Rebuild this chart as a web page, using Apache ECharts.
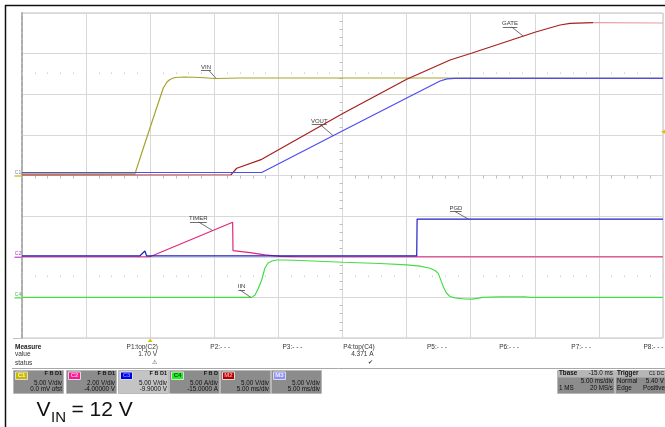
<!DOCTYPE html>
<html>
<head>
<meta charset="utf-8">
<title>Start-up waveforms, VIN = 12 V</title>
<script src="https://cdn.jsdelivr.net/npm/echarts@6.0.0/dist/echarts.min.js"></script>
<style>
  html, body { margin: 0; padding: 0; background: #fff; }
  #chart { width: 665px; height: 427px; }
</style>
</head>
<body>
<div id="chart"></div>
<script>
// scope settings
var chNames = ['C1', 'C2', 'C3', 'C4', 'M2', 'M3'];
var chPerDiv = [5, 2, 5, 5, 5, 5];          // V/div (A/div for C4)
var chOffset = [0, -4, -9.9, -15, 0, 0];    // offset shown in the box
var tStart = -10, tEnd = 40, tPerDiv = 5;   // ms; Tbase -15 ms puts the trigger 2 div in

// traces as [ms, value]
var vin = [[-10, 0.2], [-1.19, 0.2], [-0.56, 3.26], [0.37, 7.69], [1.02, 10.77], [1.31, 11.51],
  [1.54, 11.82], [1.93, 12.06], [2.71, 12.12], [3.88, 12.06], [5.05, 11.94], [7.0, 12.0], [40, 12.0]];
var gate = [[-10, 0.06], [6.30, 0.09], [6.75, 0.89], [8.70, 1.99], [15.06, 7.66], [20.01, 11.84],
  [23.39, 14.22], [25.05, 15.04], [30.07, 17.66], [31.97, 18.52], [32.75, 18.73], [34.54, 18.81], [40, 18.77]];
var vout = [[-10, 0.37], [8.70, 0.37], [15.02, 5.50], [20.01, 9.53], [22.61, 11.63], [23.16, 11.90],
  [23.78, 11.96], [40, 11.96]];
var timer = [[-10, 0], [-0.02, 0], [6.43, 1.70], [6.46, 0.30], [7.78, 0.20], [8.95, 0.09], [10.12, 0.02],
  [11.68, 0], [40, 0]];
var pgd = [[-10, 0], [-0.82, 0], [-0.41, 0.6], [-0.28, 0], [20.79, 0], [20.82, 4.54], [40, 4.54]];
var iin = [[-10, 0], [7.92, 0], [8.18, 0.3], [8.41, 1.03], [8.70, 2.14], [8.95, 3.62], [9.19, 4.23],
  [9.50, 4.48], [9.89, 4.60], [10.51, 4.60], [11.68, 4.54], [15.06, 4.32], [17.92, 4.17], [20.01, 3.99],
  [21.05, 3.84], [21.83, 3.58], [22.22, 3.31], [22.47, 2.95], [22.61, 2.76], [22.86, 1.32], [23.11, 0.54],
  [23.38, 0.11], [23.77, -0.07], [24.55, -0.2], [25.1, -0.22], [25.96, -0.01], [27.28, 0.07], [29.23, 0.07],
  [29.62, 0], [40, 0]];
var gateFade = 34.54;   // ms, the gate trace shows pale after this on the screen

// trace tags: text, underline t0..t1 at v, leader from t to (tEnd, vEnd)
var vinNote = ['VIN', 3.96, 4.74, 12.92, 4.58, 5.13, 11.96];
var voutNote = ['VOUT', 12.60, 13.77, 6.28, 13.25, 14.28, 4.90];
var gateNote = ['GATE', 27.50, 28.64, 18.28, 28.2, 29.1, 17.15];
var timerNote = ['TIMER', 3.10, 4.41, 1.71, 3.78, 4.87, 1.29];
var pgdNote = ['PGD', 23.39, 24.30, 5.46, 23.78, 24.82, 4.54];
var iinNote = ['IIN', 6.87, 7.39, 0.91, 7.0, 7.84, 0.01];

// measure table and channel boxes text
var measLabels = ['P1:top(C2)', 'P2:- - -', 'P3:- - -', 'P4:top(C4)', 'P5:- - -', 'P6:- - -', 'P7:- - -', 'P8:- - -'];
var measValues = ['1.70 V', '', '', '4.371 A', '', '', '', ''];
var measStatus = ['\u26a0', '', '', '\u2714', '', '', '', ''];
var boxFlags = ['F B D1', 'F B D1', 'F B D1', 'F B D', '', ''];
var boxLine1 = ['5.00 V/div', '2.00 V/div', '5.00 V/div', '5.00 A/div', '5.00 V/div', '5.00 V/div'];
var boxLine2 = ['0.0 mV ofst', '-4.00000 V', '-9.9000 V', '-15.0000 A', '5.00 ms/div', '5.00 ms/div'];
var tagFill = ['#c9b700', '#ff1493', '#0000ee', '#22ee22', '#b30000', '#8f8fff'];
var tagText = ['#fdfbc0', '#ffc0e0', '#7090ff', '#063c06', '#ff9c9c', '#eeeeff'];

var FF = '"Liberation Sans", Arial, sans-serif';
var chart = echarts.init(document.getElementById('chart'));

function chAxis(i) {
  var c = -chOffset[i];
  return { type: 'value', show: false, min: c - 4 * chPerDiv[i], max: c + 4 * chPerDiv[i] };
}

function noteLines(n) {
  return {
    silent: true,
    symbol: ['none', 'none'],
    animation: false,
    lineStyle: { color: '#4a4a4a', width: 0.8, type: 'solid' },
    label: { show: false },
    emphasis: { disabled: true },
    data: [
      [{ coord: [n[1], n[3]], label: { show: true, position: 'insideMiddleTop', distance: 0.5, formatter: n[0],
          fontSize: 6, fontFamily: FF, color: '#3a3a3a' } },
       { coord: [n[2], n[3]] }],
      [{ coord: [n[4], n[3]] }, { coord: [n[5], n[6]] }]
    ]
  };
}

function groundMark(name, color, textColor) {
  return {
    silent: true,
    animation: false,
    data: [{ coord: [tStart, 0], symbol: 'rect', symbolSize: [7, 1.2], symbolOffset: [-4, 0.5],
      itemStyle: { color: color },
      label: { show: true, position: 'top', distance: 0.5, formatter: name, fontSize: 5, fontFamily: FF, color: textColor } }]
  };
}

function trace(name, data, ch, color, note, mark) {
  var s = {
    name: name, type: 'line', data: data, xAxisIndex: 0, yAxisIndex: 1 + ch,
    symbol: 'none', showSymbol: false, silent: true,
    lineStyle: { color: color, width: 1.2 }, itemStyle: { color: color }
  };
  if (note) s.markLine = noteLines(note);
  if (mark) s.markPoint = mark;
  return s;
}

var vinMark = groundMark('C1', '#c9b700', '#8c78b8');
// trigger level (C1, 5.40 V) marker at the right edge
vinMark.data.push({ coord: [tEnd, 5.4], symbol: 'triangle', symbolRotate: 90, symbolSize: 4,
  itemStyle: { color: '#d6c400' }, label: { show: false } });

var gateHead = gate.filter(function (p) { return p[0] <= gateFade; });
var gateTail = gate.filter(function (p) { return p[0] >= gateFade; });

var gridColor = '#d8d8d8';
var tickColor = '#bdbdbd';
var dotColor = '#cfcfcf';

var option = {
  animation: false,
  backgroundColor: '#ffffff',
  grid: { left: 22, top: 13, width: 641, height: 325, show: true, borderColor: '#c0c0c0', borderWidth: 1,
    backgroundColor: 'transparent' },
  xAxis: [
    { type: 'value', min: tStart, max: tEnd, interval: tPerDiv, position: 'bottom',
      axisLine: { show: true, onZero: true, onZeroAxisIndex: 0, lineStyle: { color: gridColor } },
      axisTick: { show: false }, axisLabel: { show: false },
      minorTick: { show: true, splitNumber: 5, length: 3, lineStyle: { color: tickColor } },
      splitLine: { show: true, lineStyle: { color: gridColor } } },
    { type: 'value', show: false, min: -5, max: 5 },
    { type: 'value', min: tStart, max: tEnd, interval: tPerDiv, position: 'top',
      axisLine: { show: false, onZero: true, onZeroAxisIndex: 7 },
      axisTick: { show: true, length: 1.5, lineStyle: { color: dotColor } }, axisLabel: { show: false },
      minorTick: { show: true, splitNumber: 5, length: 1.5, lineStyle: { color: dotColor } },
      splitLine: { show: false } },
    { type: 'value', min: tStart, max: tEnd, interval: tPerDiv, position: 'top',
      axisLine: { show: false, onZero: true, onZeroAxisIndex: 8 },
      axisTick: { show: true, length: 1.5, lineStyle: { color: dotColor } }, axisLabel: { show: false },
      minorTick: { show: true, splitNumber: 5, length: 1.5, lineStyle: { color: dotColor } },
      splitLine: { show: false } }
  ],
  yAxis: [
    { type: 'value', min: -4, max: 4, interval: 1, position: 'left',
      axisLine: { show: true, onZero: true, onZeroAxisIndex: 1, lineStyle: { color: gridColor } },
      axisTick: { show: false }, axisLabel: { show: false },
      minorTick: { show: true, splitNumber: 5, length: 3, lineStyle: { color: tickColor } },
      splitLine: { show: true, lineStyle: { color: gridColor } } },
    chAxis(0), chAxis(1), chAxis(2), chAxis(3), chAxis(4), chAxis(5),
    { type: 'value', show: false, min: -6.5, max: 1.5 },
    { type: 'value', show: false, min: -1.5, max: 6.5 },
    { type: 'value', min: -4, max: 4, interval: 1, position: 'left',
      axisLine: { show: true, onZero: false, lineStyle: { color: '#adadad', width: 2, type: [4, 2] } },
      axisTick: { show: false }, axisLabel: { show: false }, splitLine: { show: false } }
  ],
  series: [
    trace('VIN', vin, 0, '#a9a12e', vinNote, vinMark),
    trace('GATE', gateHead, 4, '#a81e1e', gateNote),
    trace('GATE tail', gateTail, 4, '#e2a0a0', null),
    trace('VOUT', vout, 5, '#4d4df2', voutNote),
    trace('TIMER', timer, 1, '#e3267c', timerNote, groundMark('C2', '#c040d0', '#b03cc8')),
    trace('PGD', pgd, 2, '#1f1fc8', pgdNote),
    trace('IIN', iin, 3, '#44de44', iinNote, groundMark('C4', '#44de44', '#3fcc3f'))
  ]
};

chart.setOption(option);

// ---- panel below the graticule ----
var g = [];
function line(x1, y1, x2, y2, color, w) {
  g.push({ type: 'line', silent: true, z: 5, shape: { x1: x1, y1: y1, x2: x2, y2: y2 },
    style: { stroke: color, lineWidth: w } });
}
function rect(x, y, w, h, fill, stroke) {
  g.push({ type: 'rect', silent: true, z: 5, shape: { x: x, y: y, width: w, height: h },
    style: { fill: fill, stroke: stroke || null, lineWidth: 1 } });
}
function text(x, y, s, size, opt) {
  opt = opt || {};
  g.push({ type: 'text', silent: true, z: 6, x: x, y: y,
    style: { text: s, fill: opt.color || '#222', font: (opt.bold ? 'bold ' : '') + size + 'px ' + FF,
      align: opt.align || 'left', verticalAlign: 'middle' } });
}

// outer frame
line(5.5, 5, 5.5, 427, '#111', 1.5);
line(5, 5.5, 665, 5.5, '#111', 1.5);
line(13, 338.5, 22, 338.5, '#c0c0c0', 1);

// trigger position marker under the graticule
var trigX = chart.convertToPixel({ xAxisIndex: 0 }, 0);
g.push({ type: 'polygon', silent: true, z: 5,
  shape: { points: [[trigX - 2.5, 342], [trigX + 2.5, 342], [trigX, 338.5]] }, style: { fill: '#d6c400' } });

// measure table
text(15, 347.7, 'Measure', 6.5, { bold: true });
text(15, 354.7, 'value', 6.5, { color: '#333' });
text(15, 362.8, 'status', 6.5, { color: '#333' });
for (var i = 0; i < measLabels.length; i++) {
  var right = 158 + i * 72.2;
  text(right, 347.7, measLabels[i], 6.5, { align: 'right', color: '#333' });
  if (measValues[i]) text(right - 1, 354.7, measValues[i], 6.5, { align: 'right', color: '#333' });
  if (measStatus[i]) text(right - 4, 362.8, measStatus[i], 6, { align: 'center', color: '#444' });
}
line(12, 368.5, 665, 368.5, '#a8a8a8', 1);

// channel boxes
var boxX = [13, 66, 118, 169, 220, 271];
for (var k = 0; k < chNames.length; k++) {
  var bx = boxX[k];
  rect(bx + 0.5, 370.5, 50, 23, k === 2 ? '#c4c4c4' : '#8c8c8c', '#b8b8b8');
  rect(bx + 2.5, 372, 12, 7.5, tagFill[k], '#dcdcdc');
  text(bx + 8.5, 375.8, chNames[k], 6, { align: 'center', color: tagText[k], bold: true });
  if (boxFlags[k]) text(bx + 49, 373, boxFlags[k], 5.5, { align: 'right', color: '#111', bold: true });
  text(bx + 49, 382.8, boxLine1[k], 6.3, { align: 'right', color: '#111' });
  text(bx + 49, 389.3, boxLine2[k], 6.3, { align: 'right', color: '#111' });
}

// timebase and trigger boxes
rect(557.5, 370.5, 57, 23, '#8c8c8c', '#b8b8b8');
rect(558, 371, 56, 6.5, '#b6b6b6');
text(559, 373.5, 'Tbase', 6.3, { bold: true, color: '#111' });
text(613, 373.5, '-15.0 ms', 6.3, { align: 'right', color: '#111' });
text(613, 381, '5.00 ms/div', 6.3, { align: 'right', color: '#111' });
text(559, 388, '1 MS', 6.3, { color: '#111' });
text(613, 388, '20 MS/s', 6.3, { align: 'right', color: '#111' });
rect(615.5, 370.5, 52, 23, '#8c8c8c', '#b8b8b8');
rect(616, 371, 51, 6.5, '#b6b6b6');
text(617, 373.5, 'Trigger', 6.3, { bold: true, color: '#111' });
text(664, 373.5, 'C1 DC', 5, { align: 'right', color: '#111' });
text(617, 381, 'Normal', 6.3, { color: '#111' });
text(664, 381, '5.40 V', 6.3, { align: 'right', color: '#111' });
text(617, 388, 'Edge', 6.3, { color: '#111' });
text(665, 388, 'Positive', 6.3, { align: 'right', color: '#111' });

// caption
text(36.5, 410.7, 'V', 21, { color: '#111' });
text(51, 417.8, 'IN', 15, { color: '#111' });
text(71.5, 410.7, '= 12 V', 21, { color: '#111' });

chart.setOption({ graphic: { elements: g } });
</script>
</body>
</html>
